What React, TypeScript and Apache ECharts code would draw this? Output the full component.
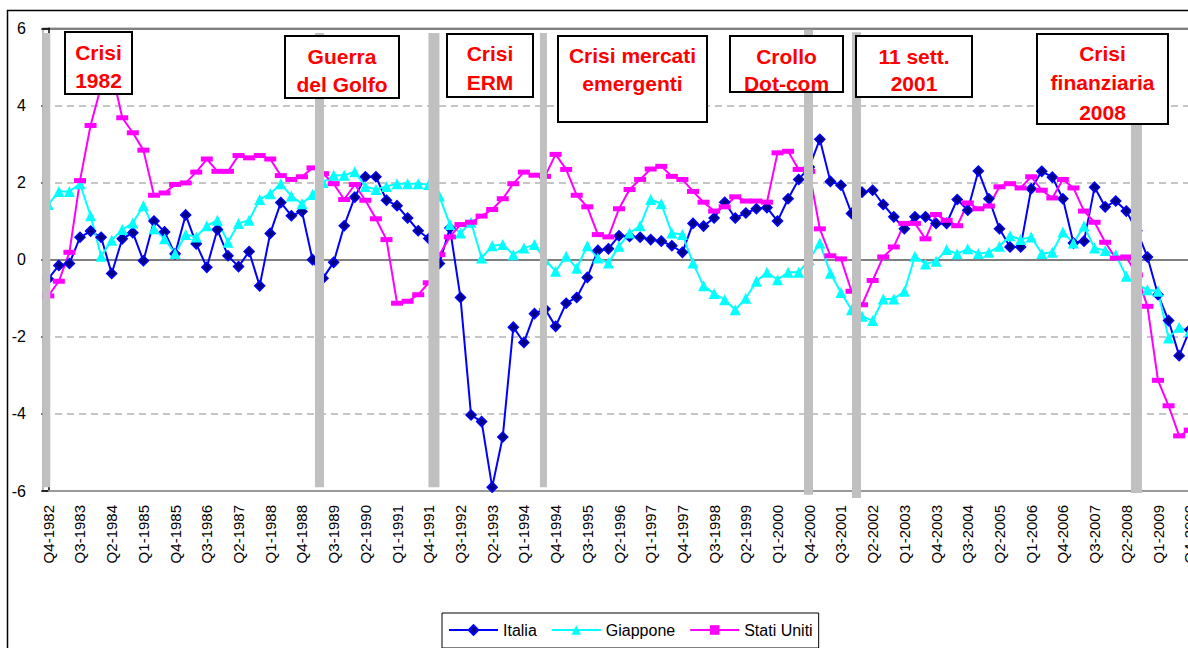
import React, { useEffect, useRef } from "react";
import * as echarts from "echarts";

// Quarterly categories Q4-1982 … Q4-2009
const quarters: string[] = (() => {
  const out: string[] = [];
  let y = 1982;
  let q = 4;
  while (y < 2009 || (y === 2009 && q <= 4)) {
    out.push(`Q${q}-${y}`);
    q++;
    if (q > 4) {
      q = 1;
      y++;
    }
  }
  return out;
})();

const italia: number[] = [
  -0.5, -0.15, -0.1, 0.58, 0.74, 0.58, -0.36, 0.54, 0.7, -0.03,
  1.0, 0.72, 0.15, 1.16, 0.41, -0.2, 0.78, 0.1, -0.18, 0.21,
  -0.68, 0.68, 1.48, 1.14, 1.25, 0.0, -0.48, -0.07, 0.88, 1.62,
  2.15, 2.15, 1.54, 1.4, 1.08, 0.75, 0.55, -0.1, 0.82, -0.98,
  -4.03, -4.2, -5.9, -4.6, -1.75, -2.15, -1.4, -1.28, -1.73, -1.13,
  -0.98, -0.46, 0.24, 0.28, 0.62, 0.6, 0.58, 0.52, 0.48, 0.36,
  0.19, 0.94, 0.87, 1.08, 1.49, 1.08, 1.21, 1.32, 1.35, 1.0,
  1.58, 2.08, 2.4, 3.12, 2.03, 1.93, 1.2, 1.75, 1.8, 1.43,
  1.11, 0.8, 1.11, 1.11, 0.94, 0.94, 1.56, 1.28, 2.3, 1.58,
  0.8, 0.33, 0.33, 1.84, 2.29, 2.14, 1.58, 0.43, 0.48, 1.88,
  1.37, 1.52, 1.26, 0.75, 0.07, -0.91, -1.58, -2.49, -1.82,
];

const giappone: number[] = [
  1.43, 1.77, 1.77, 1.97, 1.14, 0.09, 0.5, 0.78, 0.95, 1.4,
  0.8, 0.54, 0.16, 0.65, 0.59, 0.88, 1.02, 0.45, 0.94, 1.02,
  1.56, 1.71, 1.97, 1.65, 1.45, 1.69, 2.0, 2.19, 2.19, 2.28,
  1.9, 1.82, 1.9, 1.97, 1.97, 1.97, 1.95, 1.65, 0.91, 0.69,
  0.97, 0.04, 0.36, 0.39, 0.13, 0.3, 0.39, 0.0, -0.3, 0.09,
  -0.22, 0.36, 0.04, -0.09, 0.35, 0.69, 0.88, 1.56, 1.45, 0.69,
  0.65, -0.09, -0.68, -0.88, -1.04, -1.3, -1.0, -0.56, -0.33, -0.52,
  -0.33, -0.33, 0.0, 0.43, -0.35, -0.85, -1.3, -1.47, -1.58, -1.02,
  -1.02, -0.82, 0.09, -0.11, -0.04, 0.26, 0.15, 0.28, 0.16, 0.19,
  0.35, 0.62, 0.52, 0.59, 0.16, 0.19, 0.72, 0.43, 0.87, 0.3,
  0.24, 0.13, -0.43, -0.65, -0.78, -0.82, -2.03, -1.75, -1.86,
];

const statiUniti: number[] = [
  -0.94, -0.56, 0.19, 2.05, 3.48, 4.5, 4.9, 3.68, 3.29, 2.84,
  1.67, 1.73, 1.95, 1.99, 2.27, 2.61, 2.29, 2.29, 2.7, 2.64,
  2.7, 2.61, 2.18, 2.08, 2.15, 2.38, 2.23, 1.97, 1.56, 1.95,
  1.54, 1.06, 0.52, -1.13, -1.08, -0.91, -0.6, 0.13, 0.59, 0.91,
  0.97, 1.13, 1.3, 1.58, 1.97, 2.27, 2.19, 2.16, 2.73, 2.34,
  1.67, 1.37, 0.65, 0.59, 1.32, 1.82, 2.08, 2.35, 2.42, 2.16,
  2.08, 1.77, 1.49, 1.26, 1.37, 1.63, 1.52, 1.52, 1.49, 2.77,
  2.81, 2.34, 2.29, 0.8, 0.1, 0.02, -0.82, -1.17, -0.54, 0.07,
  0.33, 0.94, 0.94, 0.54, 1.17, 1.02, 0.88, 1.47, 1.32, 1.39,
  1.89, 1.97, 1.86, 2.15, 1.8, 1.6, 2.08, 1.86, 1.26, 0.97,
  0.45, 0.04, 0.07, -0.4, -1.21, -3.13, -3.79, -4.57, -4.42,
];

const seriesNames = ["Italia", "Giappone", "Stati Uniti"];
const yTicks = { min: -6, max: 6, step: 2 };

// Crisis marker bars: [category position, top value, bottom value, width px]
const crisisBars: number[][] = [
  [-0.19, 5.88, -5.9, 8],
  [25.66, 5.88, -5.9, 9],
  [36.49, 5.88, -5.9, 11],
  [46.85, 5.88, -5.9, 7],
  [71.93, 5.96, -6.1, 9],
  [76.47, 5.9, -6.18, 9],
  [102.96, 3.54, -6.05, 11],
];

// Annotation boxes: lines of text, box [x1,y1,x2,y2], line centre y's
const annotations = [
  { lines: ["Crisi", "1982"], box: [65, 32, 132, 94], ys: [52, 80] },
  { lines: ["Guerra", "del Golfo"], box: [285, 36, 399, 98], ys: [56, 84] },
  { lines: ["Crisi", "ERM"], box: [447, 34, 533, 97], ys: [53, 82] },
  { lines: ["Crisi mercati", "emergenti"], box: [558, 36, 707, 122], ys: [55, 83] },
  { lines: ["Crollo", "Dot-com"], box: [730, 36, 843, 92], ys: [56, 83] },
  { lines: ["11 sett.", "2001"], box: [856, 36, 972, 97], ys: [56, 83] },
  { lines: ["Crisi", "finanziaria", "2008"], box: [1037, 34, 1168, 124], ys: [53, 82, 112] },
];

const SANS = "'Liberation Sans', Arial, sans-serif";

export default function App() {
  const ref = useRef<HTMLDivElement>(null);

  useEffect(() => {
    if (!ref.current) return;
    const chart = echarts.init(ref.current, undefined, { renderer: "svg" });

    const graphics: any[] = [
      {
        type: "rect",
        shape: { x: 7.5, y: 10.5, width: 1300, height: 700 },
        style: { fill: "none", stroke: "#000", lineWidth: 1.5 },
        silent: true,
        z: 0,
      },
    ];
    annotations.forEach((a) => {
      const [x1, y1, x2, y2] = a.box;
      graphics.push({
        type: "rect",
        shape: { x: x1, y: y1, width: x2 - x1, height: y2 - y1 },
        style: { fill: "#fff", stroke: "#000", lineWidth: 2 },
        silent: true,
        z: 100,
      });
      a.lines.forEach((t, i) => {
        graphics.push({
          type: "text",
          x: (x1 + x2) / 2,
          y: a.ys[i],
          style: {
            text: t,
            fill: "#ff0000",
            font: `bold 21px ${SANS}`,
            textAlign: "center",
            textVerticalAlign: "middle",
          },
          silent: true,
          z: 101,
        });
      });
    });

    const option: any = {
      animation: false,
      backgroundColor: "#fff",
      grid: {
        left: 43,
        top: 28.3,
        width: 1152,
        height: 462.7,
        show: true,
        borderColor: "#a0a0a0",
        borderWidth: 1.5,
        containLabel: false,
        outerBoundsMode: "none",
      },
      legend: {
        data: seriesNames,
        left: 442,
        top: 613,
        orient: "horizontal",
        itemWidth: 49,
        itemHeight: 12,
        itemGap: 14,
        padding: [9, 6, 10, 6],
        borderColor: "#000",
        borderWidth: 1,
        textStyle: { fontFamily: SANS, fontSize: 16, color: "#000" },
      },
      xAxis: [
        {
          type: "category",
          data: quarters,
          boundaryGap: true,
          axisLine: { onZero: false, lineStyle: { color: "#999", width: 2 } },
          axisTick: { show: false },
          axisLabel: {
            interval: 2,
            rotate: 90,
            fontFamily: SANS,
            fontSize: 15,
            color: "#000",
            margin: 14,
          },
          splitLine: { show: false },
        },
        { type: "value", min: -0.5, max: quarters.length - 0.5, show: false },
      ],
      yAxis: [
        {
          type: "value",
          min: yTicks.min,
          max: yTicks.max,
          interval: yTicks.step,
          axisLine: { show: true, lineStyle: { color: "#000", width: 1.5 } },
          axisTick: { show: true, length: 7, lineStyle: { color: "#000", width: 1.5 } },
          axisLabel: { fontFamily: SANS, fontSize: 16, color: "#000", margin: 17 },
          splitLine: { show: true, lineStyle: { color: "#b3b3b3", type: [7, 5], width: 1.5 } },
        },
        {
          type: "value",
          min: yTicks.min,
          max: yTicks.max,
          interval: 6,
          position: "right",
          axisLine: { show: false },
          axisTick: { show: false },
          axisLabel: { show: false },
          splitLine: { show: true, lineStyle: { color: "#808080", width: 2 } },
        },
      ],
      series: [
        {
          name: "Italia",
          type: "line",
          data: italia,
          symbol: "diamond",
          symbolSize: 10,
          showAllSymbol: true,
          lineStyle: { color: "#0000ff", width: 2 },
          itemStyle: { color: "#000080", borderColor: "#0000ff", borderWidth: 1.5 },
          z: 2,
        },
        {
          name: "Giappone",
          type: "line",
          data: giappone,
          symbol: "triangle",
          symbolSize: 11,
          showAllSymbol: true,
          lineStyle: { color: "#00ffff", width: 2 },
          itemStyle: { color: "#00ffff" },
          z: 2,
        },
        {
          name: "Stati Uniti",
          type: "line",
          data: statiUniti,
          symbol: "rect",
          symbolSize: [12, 5],
          showAllSymbol: true,
          lineStyle: { color: "#ff00ff", width: 2 },
          itemStyle: { color: "#ff00ff" },
          z: 2,
        },
        {
          type: "custom",
          xAxisIndex: 1,
          yAxisIndex: 0,
          data: crisisBars,
          clip: false,
          silent: true,
          z: 5,
          encode: { x: 0, y: [1, 2] },
          renderItem: (params: any, api: any) => {
            const x = api.value(0);
            const top = api.coord([x, api.value(1)]);
            const bot = api.coord([x, api.value(2)]);
            const w = api.value(3);
            return {
              type: "rect",
              shape: { x: top[0] - w / 2, y: top[1], width: w, height: bot[1] - top[1] },
              style: { fill: "#c0c0c0" },
            };
          },
        },
      ],
      graphic: graphics,
    };

    chart.setOption(option);
    return () => chart.dispose();
  }, []);

  return (
    <div
      ref={ref}
      style={{ position: "fixed", left: 0, top: 0, width: 1188, height: 648, background: "#fff" }}
    />
  );
}
